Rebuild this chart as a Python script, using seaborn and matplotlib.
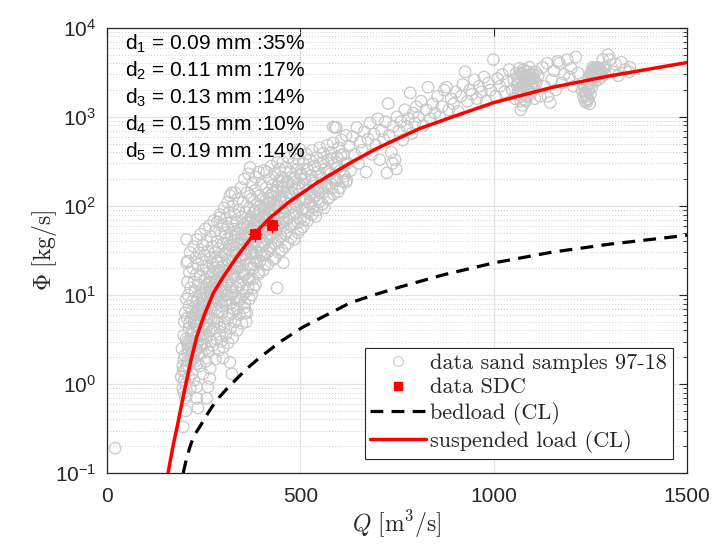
import numpy as np
import pandas as pd
import matplotlib
matplotlib.use('Agg')
import matplotlib.pyplot as plt
import seaborn as sns
from matplotlib.lines import Line2D
from matplotlib.ticker import FixedLocator, FuncFormatter, LogLocator, NullFormatter, NullLocator

# ---------- values ----------

# suspended load (CL) curve
susp_q = [158, 165, 172, 181, 192, 204, 218, 232, 252, 275, 300, 336, 378, 420, 470,
          543, 628, 700, 809, 900, 1000, 1150, 1300, 1500]
susp_phi = [0.1, 0.148, 0.214, 0.324, 0.562, 1.0, 1.91, 3.39, 6.03, 10.5, 15.8, 26.9,
            46.8, 72.4, 110, 182, 302, 447, 741, 1023, 1445, 2138, 2884, 4074]

# bedload (CL) curve
bed_q = [197, 205, 215, 225, 240, 255, 271, 290, 313, 336, 361, 396, 450, 507, 570,
         628, 690, 758, 869, 1000, 1150, 1300, 1500]
bed_phi = [0.1, 0.141, 0.2, 0.263, 0.331, 0.427, 0.55, 0.708, 0.912, 1.15, 1.48, 2.0,
           3.02, 4.37, 6.03, 8.13, 10.0, 12.3, 16.8, 22.9, 30.2, 37.2, 46.8]

# SDC samples
sdc_q = [383, 427]
sdc_phi = [48, 61]
sdc_q_err = [18, 18]
sdc_phi_err = [9, 11]

# sand samples 97-18 (Q, Phi)
sand_outliers = [(21, 0.19), (197, 0.33), (204, 0.5), (235, 0.54), (232, 0.69), (258, 0.69),
                 (261, 0.93), (232, 0.93), (266, 1.15), (323, 1.3), (300, 1.96), (318, 1.75),
                 (440, 12), (357, 6.3), (360, 5), (323, 140), (370, 130), (292, 74),
                 (209, 24), (585, 770), (590, 760)]
sand_left = [(192, 1.2), (194, 2.5), (196, 1.6), (197, 1.4), (198, 3.5), (199, 0.8), (200, 5.0),
             (201, 2.1), (202, 6.3), (203, 1.0), (205, 9), (206, 23), (206, 42), (207, 3.0),
             (208, 14), (209, 1.8), (210, 10), (211, 4.2), (212, 7.5), (213, 18), (214, 2.6),
             (215, 30), (216, 12), (218, 5.5), (196, 0.9), (199, 1.9), (202, 1.4), (205, 0.75),
             (208, 2.8), (211, 1.6), (215, 0.9), (218, 3.6)]
sand_a = [(220, 1.3), (221, 8.5), (222, 20), (223, 3.8), (224, 35), (225, 14), (226, 2.3),
          (227, 6), (228, 11), (229, 26), (230, 4.5), (231, 17), (232, 42), (233, 9), (234, 2.9),
          (235, 22), (236, 7), (237, 13), (238, 30), (240, 5), (241, 16), (242, 48), (243, 10),
          (244, 3.5), (245, 25), (246, 8), (247, 19), (248, 36), (249, 12), (250, 6.5), (252, 28),
          (253, 15), (254, 55), (255, 4.2), (256, 21), (257, 9.5), (258, 40), (259, 13), (260, 31),
          (221, 2.2), (225, 1.1), (229, 2.9), (233, 1.7), (237, 4.5), (241, 2.6)]
sand_b = [(262, 7.5), (264, 18), (265, 60), (266, 11), (268, 26), (269, 45), (270, 5.5), (271, 14),
          (272, 35), (274, 22), (275, 9), (276, 68), (278, 16), (279, 30), (280, 52), (281, 12),
          (282, 7), (284, 24), (285, 40), (286, 66), (288, 19), (289, 10), (290, 33), (292, 80),
          (293, 14), (294, 48), (295, 27), (296, 8.5), (298, 60), (299, 21), (300, 38), (302, 12),
          (303, 95), (304, 29), (305, 50), (306, 17), (308, 72), (309, 10), (310, 42), (311, 25),
          (312, 110), (313, 58), (314, 14), (315, 33), (316, 85), (318, 130), (319, 20), (320, 47)]
sand_c = [(322, 66), (323, 11), (324, 36), (325, 100), (326, 24), (328, 55), (329, 16), (330, 80),
          (331, 140), (332, 30), (334, 45), (335, 9), (336, 65), (337, 20), (338, 120), (340, 38),
          (341, 90), (342, 13), (344, 55), (345, 27), (346, 160), (348, 75), (349, 42), (350, 18),
          (352, 110), (353, 33), (354, 62), (355, 200), (356, 8), (358, 48), (359, 85), (360, 25),
          (362, 140), (363, 58), (364, 15), (365, 37), (366, 230), (368, 95), (369, 70), (370, 270),
          (371, 22), (372, 45), (374, 120), (375, 30), (376, 180), (378, 60), (379, 12), (380, 85),
          (382, 40), (383, 150), (384, 26), (385, 210), (386, 52), (388, 105), (389, 70), (390, 35),
          (392, 240), (393, 18), (394, 130), (395, 58), (396, 90), (398, 45), (399, 175), (400, 28)]
sand_d = [(402, 75), (404, 120), (405, 38), (406, 250), (408, 60), (409, 22), (410, 95), (412, 160),
          (413, 240), (414, 48), (415, 30), (416, 140), (418, 80), (420, 200), (421, 55), (422, 110),
          (424, 35), (425, 280), (426, 70), (428, 170), (429, 44), (430, 125), (432, 90), (434, 230),
          (435, 26), (436, 62), (438, 150), (440, 100), (441, 310), (442, 40), (444, 190), (445, 75),
          (446, 260), (448, 55), (450, 130), (452, 32), (453, 210), (454, 85), (455, 310), (456, 23),
          (458, 160), (460, 110), (461, 48), (462, 270), (464, 70), (466, 190), (468, 38), (469, 140),
          (470, 350), (472, 95), (474, 240), (475, 60), (477, 170), (478, 120), (480, 300), (482, 80),
          (484, 42), (485, 210), (486, 380), (488, 150), (490, 100), (492, 260), (494, 65), (495, 330),
          (496, 180), (498, 120), (499, 430), (500, 55)]
sand_e = [(502, 230), (504, 90), (506, 160), (508, 300), (510, 70), (512, 200), (514, 120), (516, 380),
          (518, 260), (520, 85), (522, 150), (524, 330), (526, 105), (528, 220), (530, 420), (532, 95),
          (534, 180), (536, 280), (538, 130), (540, 76), (542, 350), (544, 240), (546, 160), (548, 110),
          (550, 450), (552, 300), (555, 200), (558, 140), (560, 390), (562, 95), (565, 260), (568, 175),
          (570, 480), (572, 330), (575, 125), (578, 230), (580, 400), (582, 160), (585, 510), (588, 290),
          (590, 200), (593, 760), (595, 350), (598, 145), (600, 450), (603, 250), (606, 550), (610, 190),
          (612, 380), (615, 300), (618, 620), (620, 195)]
sand_core = [(200, 1.1), (203, 0.7), (206, 1.6), (209, 2.2), (212, 1.2), (214, 3.0), (217, 1.8),
             (219, 2.6), (222, 4.0), (224, 1.9), (226, 3.3), (228, 5.5), (231, 2.4), (233, 4.6),
             (235, 6.5), (238, 3.5), (240, 8.0), (242, 5.2), (244, 2.8), (246, 6.8), (248, 10.5),
             (251, 4.4), (253, 7.6), (256, 12), (258, 5.5), (261, 9.5), (263, 14), (266, 7), (268, 11),
             (270, 17), (273, 8.5), (276, 13), (278, 20), (281, 9.5), (283, 15), (287, 23), (289, 12),
             (291, 18), (294, 27), (297, 14), (301, 21), (304, 11), (307, 30), (310, 17), (313, 24),
             (317, 36), (321, 15), (324, 28), (327, 40), (331, 21), (334, 33), (339, 48), (343, 24),
             (347, 38), (351, 55), (354, 29), (357, 45), (361, 65), (364, 34), (367, 52), (372, 75),
             (376, 40), (379, 60), (383, 88), (387, 46), (391, 68), (395, 100), (401, 52), (405, 80),
             (410, 115), (415, 58), (419, 90), (423, 130), (428, 66), (433, 100), (438, 145), (443, 74),
             (448, 112), (452, 165), (457, 85), (463, 125), (467, 180), (473, 95), (478, 140), (483, 200),
             (489, 105), (494, 160), (501, 220), (507, 118), (513, 175), (519, 250), (525, 135),
             (531, 195), (537, 280), (545, 150), (552, 215), (559, 310), (566, 170), (574, 240),
             (581, 340), (589, 190), (597, 270), (605, 370), (614, 215), (622, 300)]
sand_lower = [(240, 1.6), (244, 2.2), (248, 1.3), (252, 2.8), (256, 1.8), (260, 3.5), (263, 2.3),
              (267, 1.5), (270, 4.0), (273, 2.7), (277, 5.2), (280, 1.9), (283, 3.2), (286, 6.5),
              (289, 2.4), (292, 4.3), (295, 3.0), (298, 7.5), (301, 2.6), (304, 5.0), (307, 3.6),
              (310, 8.5), (313, 2.9), (316, 6.0), (319, 4.2), (322, 10), (325, 3.3), (328, 7),
              (331, 5.0), (334, 12), (337, 4.0), (340, 8.5), (343, 6), (346, 14), (349, 4.8),
              (352, 10), (355, 7.2), (358, 17), (362, 6.3), (365, 12), (368, 9), (371, 20), (374, 10),
              (377, 15), (380, 22), (384, 13), (388, 30), (392, 17), (396, 24), (400, 35), (404, 19),
              (408, 28), (412, 42), (416, 22), (420, 33), (425, 48), (430, 25), (435, 38), (440, 55),
              (445, 30), (450, 45), (455, 65), (460, 35), (465, 52), (470, 75), (476, 44), (482, 62),
              (488, 85), (494, 50), (500, 72), (506, 58), (512, 95), (518, 68), (524, 110), (530, 80),
              (536, 125), (543, 90), (550, 140), (557, 105), (564, 160), (571, 120), (578, 180),
              (586, 135), (594, 200), (602, 160), (610, 230), (618, 185)]
sand_fill = [(204, 3.2), (207, 5.5), (210, 2.5), (213, 4.8), (216, 2.0), (219, 6.5), (222, 3.0),
             (225, 5.0), (228, 1.8), (231, 7.5), (234, 3.8), (237, 2.2), (240, 6.0), (243, 3.2),
             (246, 4.0), (249, 8.5), (252, 3.6), (255, 6.0), (258, 2.5), (261, 4.6), (264, 5.6),
             (267, 9.8), (270, 3.0), (273, 12), (276, 4.2), (279, 7.8), (282, 14), (285, 5.0),
             (288, 9), (291, 3.6), (294, 11), (297, 6.2), (300, 16), (303, 4.4), (306, 8.8),
             (309, 13), (312, 5.4), (315, 19), (318, 8), (321, 12), (324, 6.2), (327, 17), (330, 9.5),
             (333, 24), (336, 7), (339, 14), (342, 20), (345, 9), (348, 26), (351, 12), (354, 17),
             (357, 33), (360, 11), (363, 22), (366, 42), (369, 15), (372, 30), (375, 55), (378, 20),
             (381, 38), (384, 68), (387, 24), (390, 48), (393, 80), (397, 30), (401, 62), (405, 95),
             (409, 38), (413, 75), (417, 110), (421, 45), (425, 88), (429, 140), (433, 55), (437, 105),
             (441, 165), (445, 62), (449, 120), (453, 190), (457, 72)]
sand_f = [(625, 470), (630, 250), (635, 600), (640, 380), (646, 760), (650, 300), (655, 520), (660, 420),
          (665, 680), (670, 240), (675, 560), (680, 850), (685, 380), (690, 640), (695, 480), (700, 950),
          (705, 330), (710, 700), (715, 560), (720, 880), (724, 235), (727, 1410), (730, 620), (735, 400),
          (738, 300), (740, 780), (745, 330), (748, 260), (750, 1000), (755, 700), (760, 880), (765, 550),
          (770, 1200), (775, 780), (780, 960), (784, 1860), (788, 650), (792, 1100), (796, 850), (800, 1300)]
sand_g = [(805, 1000), (812, 1500), (818, 800), (825, 1200), (830, 2150), (836, 950), (842, 1400),
          (848, 1100), (855, 1700), (860, 1000), (866, 1300), (872, 2000), (878, 2150), (884, 1200),
          (890, 1600), (896, 1400), (902, 1900), (908, 1150), (915, 1700), (920, 2300), (926, 3200),
          (932, 1500), (938, 2000), (944, 1800), (950, 2600), (956, 1600), (962, 2200), (968, 1900),
          (975, 2800), (980, 1500), (986, 2400), (992, 2000), (999, 4400), (1005, 1700), (1010, 2700),
          (1016, 2200), (1022, 3000), (1028, 1900), (1034, 2500), (1040, 3400)]
sand_blob1 = [(1048, 2000), (1052, 2600), (1055, 1600), (1058, 3100), (1060, 2300), (1062, 1800),
              (1064, 2800), (1066, 3500), (1068, 2100), (1070, 1500), (1072, 2500), (1074, 3000),
              (1076, 1900), (1078, 2700), (1080, 2200), (1082, 3300), (1084, 1700), (1086, 2400),
              (1088, 2900), (1090, 2000), (1092, 3600), (1094, 2600), (1096, 1800), (1098, 2300),
              (1100, 3000), (1102, 2100), (1104, 2700), (1106, 1600), (1108, 3200), (1110, 2400),
              (1070, 1200), (1075, 1350), (1080, 1550), (1072, 1700), (1085, 2000), (1065, 2400),
              (1068, 2700), (1071, 3100), (1075, 2300), (1078, 1800), (1081, 2500), (1084, 2900),
              (1087, 2100), (1090, 2600), (1093, 3000), (1096, 2200), (1099, 2700), (1063, 2000),
              (1069, 1900), (1077, 3400), (1083, 1500), (1089, 3200), (1095, 1900), (1101, 2500)]
sand_h = [(1115, 2900), (1120, 1700), (1126, 3600), (1132, 2200), (1138, 4000), (1140, 1700),
          (1146, 1450), (1150, 2600), (1156, 3300), (1160, 2000), (1166, 4200), (1170, 4000),
          (1176, 2400), (1182, 3000), (1190, 4400), (1196, 2800), (1200, 3500), (1206, 2200),
          (1212, 4700), (1218, 3100)]
sand_blob2 = [(1228, 2000), (1230, 2400), (1232, 1700), (1234, 2200), (1236, 1500), (1238, 1900),
              (1240, 1450), (1242, 2300), (1244, 1600), (1246, 2000), (1248, 1400), (1250, 1800),
              (1252, 2600), (1254, 2200), (1246, 2800), (1250, 3000), (1254, 3300), (1258, 2700),
              (1260, 3500), (1262, 2900), (1265, 3200), (1268, 3600), (1270, 2600), (1272, 3000),
              (1275, 3400), (1278, 2800), (1280, 3200), (1284, 3500), (1288, 3000), (1256, 3600),
              (1262, 2500), (1266, 2800), (1274, 3500), (1240, 1700), (1244, 2000), (1248, 2400),
              (1252, 2900), (1256, 3100), (1260, 2700), (1264, 3400), (1268, 3100), (1272, 3300),
              (1276, 3100), (1236, 1800), (1242, 1550), (1258, 3300), (1270, 3500)]
sand_i = [(1282, 4400), (1288, 3600), (1295, 5000), (1300, 4400), (1308, 3200), (1315, 3900),
          (1322, 2900), (1330, 4100), (1340, 3400), (1350, 3200), (1352, 3600)]

d_sizes = ['0.09', '0.11', '0.13', '0.15', '0.19']
d_shares = ['35%', '17%', '14%', '10%', '14%']

# ---------- build table ----------

sand = sand_outliers + sand_left + sand_a + sand_b + sand_core + sand_lower + sand_fill + sand_c \
    + sand_d + sand_e + sand_f + sand_g + sand_blob1 + sand_h + sand_blob2 + sand_i
df_sand = pd.DataFrame(sand, columns=['Q', 'Phi'])
df_susp = pd.DataFrame({'Q': susp_q, 'Phi': susp_phi})
df_bed = pd.DataFrame({'Q': bed_q, 'Phi': bed_phi})
df_sdc = pd.DataFrame({'Q': sdc_q, 'Phi': sdc_phi})

# ---------- plot ----------

sns.set_theme(style='white')
plt.rcParams['font.family'] = ['Liberation Sans', 'DejaVu Sans']
plt.rcParams['mathtext.fontset'] = 'cm'

grey = '#c8c8c8'
dark = '#262626'

fig = plt.figure(figsize=(7.18, 5.45), dpi=100)
ax = fig.add_axes([0.149, 0.132, 0.808, 0.817])
ax.set_yscale('log')

sns.scatterplot(data=df_sand, x='Q', y='Phi', marker='o', s=68, facecolor='none',
                edgecolor=grey, linewidth=0.9, ax=ax, zorder=2)
sns.lineplot(data=df_bed, x='Q', y='Phi', estimator=None, sort=False, color='black',
             lw=2.3, dashes=(4, 2.6), ax=ax, zorder=3)
sns.lineplot(data=df_susp, x='Q', y='Phi', estimator=None, sort=False, color='red',
             lw=2.5, ax=ax, zorder=4)
ax.errorbar(sdc_q, sdc_phi, xerr=sdc_q_err, yerr=sdc_phi_err, fmt='none', ecolor='red',
            elinewidth=1.0, zorder=5)
sns.scatterplot(data=df_sdc, x='Q', y='Phi', marker='s', s=50, color='red',
                edgecolor='red', ax=ax, zorder=6)

ax.set_xlim(0, 1500)
ax.set_ylim(0.1, 1e4)

ax.xaxis.set_major_locator(FixedLocator([0, 500, 1000, 1500]))
ax.xaxis.set_minor_locator(NullLocator())
ax.yaxis.set_major_locator(LogLocator(base=10))
ax.yaxis.set_minor_locator(LogLocator(base=10, subs=np.arange(2, 10)))
ax.yaxis.set_minor_formatter(NullFormatter())
ax.yaxis.set_major_formatter(FuncFormatter(lambda v, p: r'$\mathregular{10^{%d}}$' % round(np.log10(v))))

ax.grid(which='major', color='#e3e3e3', lw=0.9, ls='-')
ax.grid(which='minor', axis='y', color='#bdbdbd', lw=0.6, ls=(0, (1, 2.5)))
ax.set_axisbelow(True)

ax.tick_params(which='both', direction='in', top=True, right=True, color=dark,
               labelcolor=dark, labelsize=15)
ax.tick_params(which='major', length=6, width=0.8)
ax.tick_params(which='minor', length=3, width=0.6)
ax.tick_params(axis='x', pad=10)
ax.tick_params(axis='y', pad=8)
for sp in ax.spines.values():
    sp.set_color(dark)
    sp.set_linewidth(0.9)

ax.set_xlabel(r'$Q\ [\mathrm{m^3/s}]$', fontsize=17, color=dark, labelpad=2)
ax.set_ylabel(r'$\Phi\ [\mathrm{kg/s}]$', fontsize=17, color=dark, labelpad=-3)

# grain size fractions
for i in range(len(d_sizes)):
    ax.text(0.031, 0.951 - i * 0.0605,
            r'$\mathregular{d_{%d}}$ = %s mm :%s' % (i + 1, d_sizes[i], d_shares[i]),
            transform=ax.transAxes, fontsize=15, color='black', va='baseline', ha='left')

handles = [
    Line2D([], [], marker='o', ls='none', mfc='none', mec=grey, ms=7, mew=0.8),
    Line2D([], [], marker='s', ls='none', color='red', ms=6),
    Line2D([], [], color='black', lw=2.3, dashes=(4, 2.6)),
    Line2D([], [], color='red', lw=2.5),
]
labels = ['data sand samples 97-18', 'data SDC', 'bedload (CL)', 'suspended load (CL)']
leg = ax.legend(handles, labels, loc='lower right', prop={'family': 'cmr10', 'size': 16},
                frameon=True, fancybox=False, framealpha=1, edgecolor=dark,
                borderaxespad=0.65, handlelength=2.5, handletextpad=0.2,
                labelspacing=0.22, borderpad=0.25)
leg.get_frame().set_linewidth(0.8)

fig.savefig('out.png', dpi=100)
